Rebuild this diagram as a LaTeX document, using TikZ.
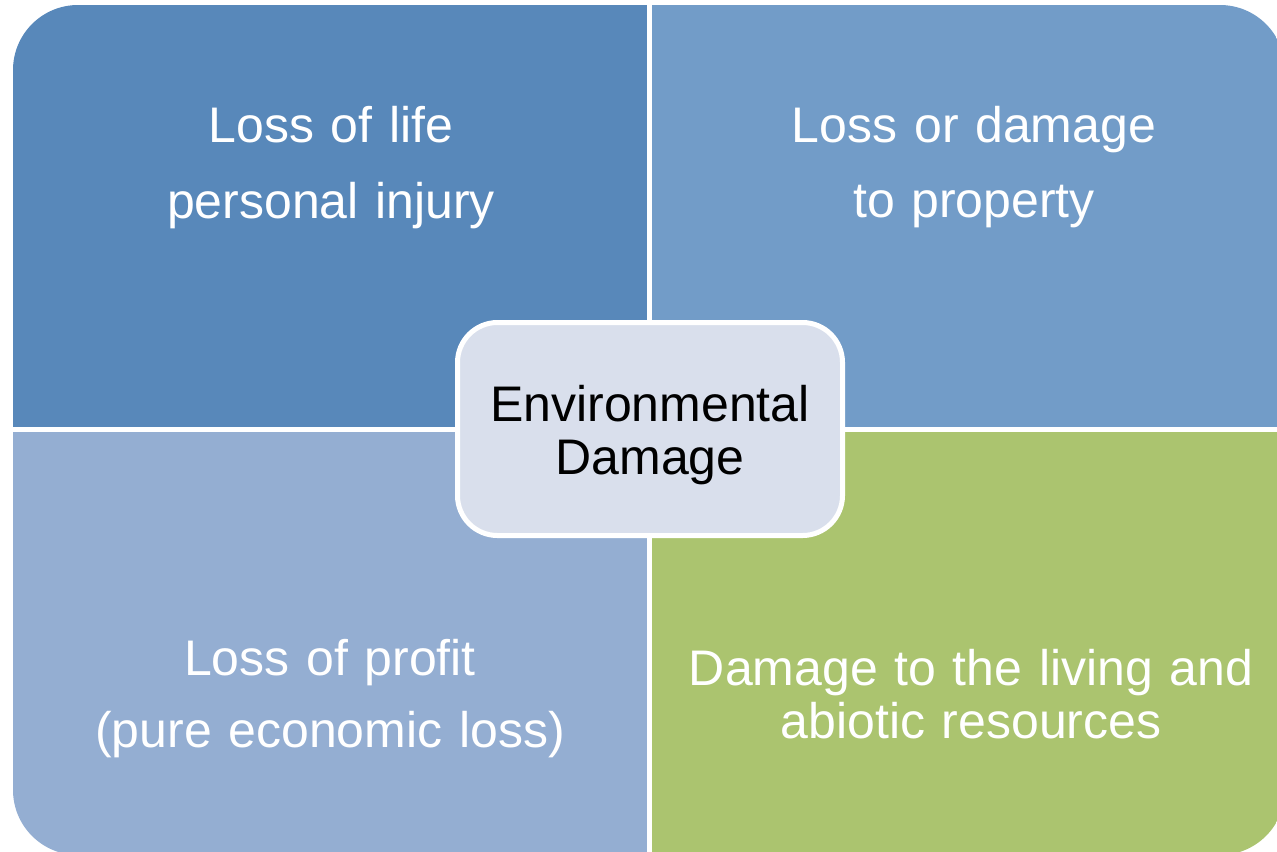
\documentclass[tikz,border=0pt]{standalone}
\usepackage{fontspec}
\setmainfont{Liberation Sans}
\definecolor{lifeblue}{RGB}{88,136,186}
\definecolor{propblue}{RGB}{114,156,200}
\definecolor{profitblue}{RGB}{148,174,210}
\definecolor{livgreen}{RGB}{171,196,111}
\definecolor{hubgray}{RGB}{217,223,236}

\begin{document}
\begin{tikzpicture}[x=0.5pt,y=-0.5pt,
    quad/.style={text=white,anchor=base,align=center,text width=300pt,inner sep=0pt},
    hub/.style={draw=white,line width=2.5pt,fill=hubgray,rounded corners=20pt,
      minimum width=192.5pt,minimum height=106.5pt,align=center,
      font=\fontsize{25}{26.5}\selectfont}]
    \useasboundingbox (0,0) rectangle (1277,851);
    \clip (0,0) rectangle (1277,851);
    \begin{scope}
      \clip[rounded corners=32.5pt] (13,5) rectangle (1285,855);
      \fill[lifeblue] (13,5) rectangle (647,427);
      \fill[propblue] (652,5) rectangle (1285,427);
      \fill[profitblue] (13,432) rectangle (647,855);
      \fill[livgreen] (652,432) rectangle (1285,855);
    \end{scope}

    \node (1) [quad,font=\fontsize{25}{38}\selectfont] at (331,142) {Loss of life\\personal injury};
    \node (2) [quad,font=\fontsize{25}{37.5}\selectfont] at (974,142) {Loss or damage\\to property};
    \node (3) [quad,font=\fontsize{25}{36}\selectfont] at (330,675) {Loss of profit\\(pure economic loss)};
    \node (4) [quad,font=\fontsize{25}{26.5}\selectfont] at (971,685) {Damage to the living and\\abiotic resources};
    \node (0) [hub] at (650,429) {\rule{0pt}{24.5pt}Environmental\\Damage};
\end{tikzpicture}
\end{document}
